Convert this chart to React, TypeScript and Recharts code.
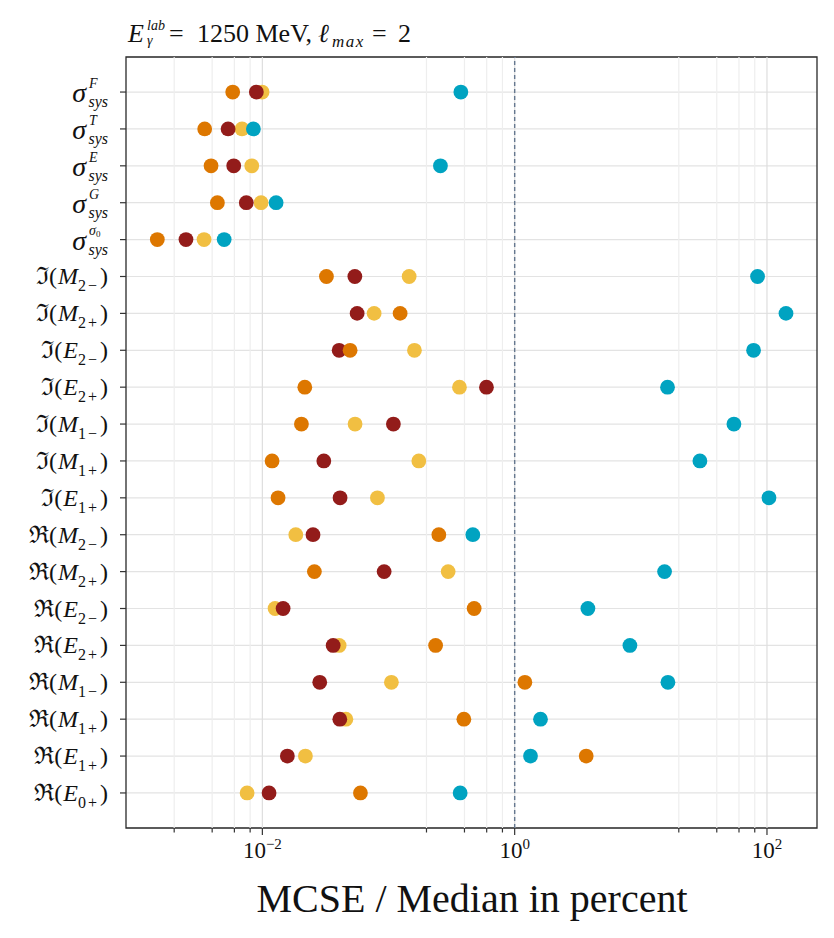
import React from 'react';
import { ScatterChart, Scatter, XAxis, YAxis, ReferenceLine, ReferenceArea, CartesianGrid } from 'recharts';

const FONT = "'Liberation Serif', 'DejaVu Serif', serif";

// Row labels, top to bottom
const categories = [
  'σ_sys^F', 'σ_sys^T', 'σ_sys^E', 'σ_sys^G', 'σ_sys^σ0',
  'ℑ(M_2−)', 'ℑ(M_2+)', 'ℑ(E_2−)', 'ℑ(E_2+)', 'ℑ(M_1−)', 'ℑ(M_1+)', 'ℑ(E_1+)',
  'ℜ(M_2−)', 'ℜ(M_2+)', 'ℜ(E_2−)', 'ℜ(E_2+)', 'ℜ(M_1−)', 'ℜ(M_1+)', 'ℜ(E_1+)', 'ℜ(E_0+)',
];

// MCSE / Median in percent, one value per row
const yellowValues = [0.00995, 0.0069, 0.00824, 0.00977, 0.00345, 0.1457, 0.0769, 0.1605, 0.365, 0.0543, 0.1739, 0.0817, 0.0184, 0.297, 0.01261, 0.0406, 0.1054, 0.0459, 0.02194, 0.00757];
const darkRedValues = [0.00896, 0.00535, 0.00593, 0.00746, 0.00248, 0.0541, 0.0564, 0.0406, 0.5975, 0.1093, 0.0307, 0.0413, 0.0252, 0.0923, 0.0146, 0.0364, 0.0285, 0.0411, 0.01578, 0.0113];
const orangeValues = [0.00582, 0.00349, 0.00392, 0.0044, 0.00147, 0.0322, 0.1236, 0.0496, 0.0217, 0.0204, 0.01194, 0.01332, 0.2505, 0.02585, 0.4773, 0.2362, 1.205, 0.3956, 3.69, 0.0599];
const tealValues = [0.3745, 0.00849, 0.258, 0.01285, 0.00498, 84.2, 141.5, 78.3, 16.28, 54.7, 29.4, 103.7, 0.466, 15.42, 3.806, 8.195, 16.4, 1.602, 1.335, 0.3697];

const majorTicks = [0.01, 1, 100];
const minorTicks = [0.002, 0.004, 0.006, 0.008, 0.2, 0.4, 0.6, 0.8, 20, 40, 60, 80];
const xTicks = [...minorTicks, ...majorTicks].sort((a, b) => a - b);
const xDomain = [0.00083, 249.2];
const yDomain = [-0.95, 19.95];
const yTicks = categories.map((_, i) => i);

const series = [
  { name: 'yellow', color: '#F1BF42', values: yellowValues },
  { name: 'darkred', color: '#931C1A', values: darkRedValues },
  { name: 'orange', color: '#DD7700', values: orangeValues },
  { name: 'teal', color: '#00A3C1', values: tealValues },
];

const toPoints = (values: number[]) => values.map((v, i) => ({ x: v, y: i }));

const XTick = (props: any) => {
  const { x, y, payload } = props;
  const v = payload.value;
  const major = majorTicks.includes(v);
  const exp = Math.round(Math.log10(v));
  const expStr = exp < 0 ? '−' + Math.abs(exp) : String(exp);
  return (
    <g>
      <line x1={x} x2={x} y1={y} y2={y + (major ? 7 : 4.5)} stroke="#333" strokeWidth={1.2} />
      {major && (
        <text x={x} y={y + 30} textAnchor="middle" fontFamily={FONT} fontSize={23} fill="#111">
          10<tspan dy={-9} fontSize={15}>{expStr}</tspan>
        </text>
      )}
    </g>
  );
};

const YTick = (props: any) => {
  const { x, y, payload } = props;
  const label = categories[payload.value];
  if (!label) return null;
  if (label.startsWith('σ_sys^')) {
    const sup = label.slice('σ_sys^'.length);
    return (
      <g fontFamily={FONT} fill="#111">
        <text x={x - 22} y={y + 10} textAnchor="end" fontSize={28} fontStyle="italic">σ</text>
        <text x={x} y={y + 15} textAnchor="end" fontSize={16} fontStyle="italic">sys</text>
        {sup === 'σ0' ? (
          <text x={x - 19} y={y - 5} textAnchor="start" fontSize={14} fontStyle="italic">
            σ<tspan dy={2} fontSize={9} fontStyle="normal">0</tspan>
          </text>
        ) : (
          <text x={x - 19} y={y - 4} textAnchor="start" fontSize={14} fontStyle="italic">{sup}</text>
        )}
      </g>
    );
  }
  // form: P(L_ns)
  const prefix = label.slice(0, 2);
  const letter = label.slice(2, 3);
  const sub = label.slice(4, label.length - 1);
  const num = sub.slice(0, 1);
  const sign = sub.slice(1);
  return (
    <text x={x} y={y + 8} textAnchor="end" fontFamily={FONT} fontSize={24} fill="#111" style={{ whiteSpace: 'pre' }}>
      <tspan>{prefix}</tspan>
      <tspan fontStyle="italic" dx={1}>{letter}</tspan>
      <tspan dy={7} fontSize={16}>{num}</tspan>
      <tspan dx={2} fontSize={16}>{sign}</tspan>
      <tspan dy={-7} dx={3} fontSize={24}>)</tspan>
    </text>
  );
};

export default function App() {
  return (
    <div style={{ position: 'absolute', left: 0, top: 0, width: 834, height: 938, background: '#fff' }}>
      <ScatterChart width={834} height={938} margin={{ top: 57, right: 17, bottom: 0, left: 0 }}>
        <CartesianGrid vertical={false} stroke="#e3e3e3" strokeWidth={1.2} />
        {xTicks.map((t) => (
          <ReferenceLine key={'g' + t} x={t} stroke={majorTicks.includes(t) ? '#dedede' : '#eeeeee'} strokeWidth={1.2} />
        ))}
        <ReferenceLine x={1} stroke="#66788f" strokeWidth={1.4} strokeDasharray="4 3" />
        <XAxis
          type="number"
          dataKey="x"
          scale="log"
          domain={xDomain}
          allowDataOverflow
          ticks={xTicks}
          interval={0}
          tick={<XTick />}
          tickLine={false}
          axisLine={false}
          tickSize={0}
          tickMargin={0}
          height={110}
        />
        <YAxis
          type="number"
          dataKey="y"
          domain={yDomain}
          allowDataOverflow
          reversed
          ticks={yTicks}
          interval={0}
          tick={<YTick />}
          tickLine={{ stroke: '#333', strokeWidth: 1.2 }}
          tickSize={6}
          tickMargin={12}
          axisLine={false}
          width={126}
        />
        <ReferenceArea x1={xDomain[0]} x2={xDomain[1]} y1={yDomain[0]} y2={yDomain[1]} fill="none" stroke="#2a2a2a" strokeWidth={1.3} />
        {series.map((s) => (
          <Scatter
            key={s.name}
            name={s.name}
            data={toPoints(s.values)}
            isAnimationActive={false}
            shape={(p: any) => <circle cx={p.cx} cy={p.cy} r={7.4} fill={s.color} />}
          />
        ))}
      </ScatterChart>
      <svg width={834} height={938} style={{ position: 'absolute', left: 0, top: 0, pointerEvents: 'none' }}>
        <text fontFamily={FONT} fill="#111" style={{ whiteSpace: 'pre' }}>
          <tspan x={128} y={42} fontSize={26} fontStyle="italic">E</tspan>
          <tspan x={147} y={30} fontSize={14} fontStyle="italic">lab</tspan>
          <tspan x={147} y={45} fontSize={14} fontStyle="italic">γ</tspan>
          <tspan x={169} y={42} fontSize={26}>=</tspan>
          <tspan x={197} y={42} fontSize={26}>1250 MeV,</tspan>
          <tspan x={318} y={42} fontSize={26} fontStyle="italic">ℓ</tspan>
          <tspan x={332} y={47} fontSize={17} fontStyle="italic" letterSpacing={1.5}>max</tspan>
          <tspan x={372} y={42} fontSize={26}>=</tspan>
          <tspan x={398} y={42} fontSize={26}>2</tspan>
        </text>
        <text x={472} y={912} textAnchor="middle" fontFamily={FONT} fontSize={40} fill="#111">
          MCSE / Median in percent
        </text>
      </svg>
    </div>
  );
}
